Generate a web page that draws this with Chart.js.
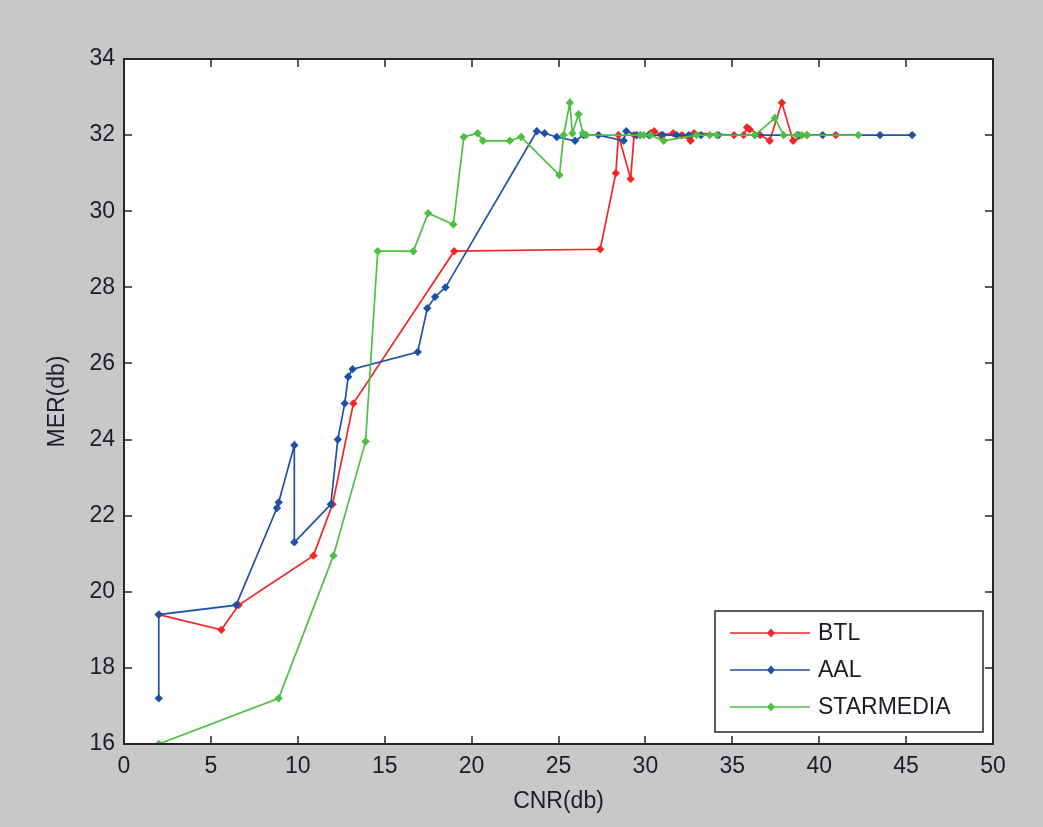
<!DOCTYPE html>
<html>
<head>
<meta charset="utf-8">
<script src="https://cdn.jsdelivr.net/npm/chart.js@4.4.1/dist/chart.umd.min.js"></script>
<style>
    html, body { margin: 0; padding: 0; background: #c8c8c8; }
    #merChart { display: block; }
</style>
</head>
<body>
<canvas id="merChart" width="1043" height="827"></canvas>
<script>
// --- data ---
const seriesNames = ['BTL', 'AAL', 'STARMEDIA'];
const seriesColors = ['#f22626', '#1f50a8', '#4cc040'];

const btlCnr = [2.0, 5.6, 6.6, 10.9, 12.0, 13.2, 19.0, 27.4, 28.3, 28.45, 29.15, 29.35, 29.7, 30.3, 30.5, 30.9, 31.6, 32.1, 32.6, 32.8, 35.1, 35.65, 35.85, 36.0, 36.6, 37.15, 37.85, 38.5, 39.3, 40.95];
const btlMer = [19.4, 19.0, 19.65, 20.95, 22.3, 24.95, 28.95, 29.0, 31.0, 32.0, 30.85, 32.0, 32.0, 32.05, 32.1, 32.0, 32.05, 32.0, 31.85, 32.05, 32.0, 32.0, 32.2, 32.15, 32.0, 31.85, 32.85, 31.85, 32.0, 32.0];

const aalCnr = [2.0, 2.0, 6.45, 8.8, 8.9, 9.8, 9.8, 11.9, 12.3, 12.7, 12.9, 13.15, 16.9, 17.45, 17.9, 18.5, 23.75, 24.2, 24.9, 25.95, 26.45, 27.3, 28.75, 28.9, 29.5, 30.2, 31.0, 31.8, 32.5, 33.2, 34.2, 36.3, 38.8, 40.2, 43.5, 45.35];
const aalMer = [17.2, 19.4, 19.65, 22.2, 22.35, 23.85, 21.3, 22.3, 24.0, 24.95, 25.65, 25.85, 26.3, 27.45, 27.75, 28.0, 32.1, 32.05, 31.95, 31.85, 32.0, 32.0, 31.85, 32.1, 32.0, 32.0, 32.0, 32.0, 32.0, 32.0, 32.0, 32.0, 32.0, 32.0, 32.0, 32.0];

const starCnr = [2.0, 8.9, 12.05, 13.9, 14.6, 16.65, 17.5, 18.95, 19.55, 20.35, 20.65, 22.2, 22.85, 25.05, 25.3, 25.65, 25.8, 26.15, 26.4, 26.6, 29.7, 29.9, 30.3, 31.05, 32.95, 33.7, 34.1, 36.3, 37.45, 37.95, 38.7, 39.0, 39.3, 42.25];
const starMer = [16.0, 17.2, 20.95, 23.95, 28.95, 28.95, 29.95, 29.65, 31.95, 32.05, 31.85, 31.85, 31.95, 30.95, 32.0, 32.85, 32.05, 32.55, 32.05, 32.0, 32.0, 32.0, 32.0, 31.85, 32.0, 32.0, 32.0, 32.0, 32.45, 32.0, 32.0, 32.0, 32.0, 32.0];

const xTicks = [0, 5, 10, 15, 20, 25, 30, 35, 40, 45, 50];
const yTicks = [16, 18, 20, 22, 24, 26, 28, 30, 32, 34];

function toPoints(xs, ys) {
    return xs.map((x, i) => ({ x: x, y: ys[i] }));
}

const allSeries = [toPoints(btlCnr, btlMer), toPoints(aalCnr, aalMer), toPoints(starCnr, starMer)];

const AXIS_COLOR = '#262626';
const TEXT_COLOR = '#1c1c28';
const FONT = "'Liberation Sans', Arial, sans-serif";

/* --- background, box, inward ticks, legend --- */
const matlabLook = {
    id: 'matlabLook',
    beforeDraw(chart) {
        const { ctx, chartArea: a } = chart;
        ctx.save();
        ctx.fillStyle = '#c8c8c8';
        ctx.fillRect(0, 0, chart.width, chart.height);
        ctx.fillStyle = '#ffffff';
        ctx.fillRect(a.left, a.top, a.right - a.left, a.bottom - a.top);
        ctx.restore();
    },
    afterDraw(chart) {
        const { ctx, chartArea: a, scales } = chart;
        ctx.save();
        ctx.strokeStyle = AXIS_COLOR;
        ctx.lineWidth = 2;
        ctx.strokeRect(a.left, a.top, a.right - a.left, a.bottom - a.top);
        const tl = 8;
        ctx.lineWidth = 1.5;
        ctx.beginPath();
        xTicks.forEach(v => {
            const px = Math.round(scales.x.getPixelForValue(v));
            ctx.moveTo(px, a.bottom); ctx.lineTo(px, a.bottom - tl);
            ctx.moveTo(px, a.top); ctx.lineTo(px, a.top + tl);
        });
        yTicks.forEach(v => {
            const py = Math.round(scales.y.getPixelForValue(v));
            ctx.moveTo(a.left, py); ctx.lineTo(a.left + tl, py);
            ctx.moveTo(a.right, py); ctx.lineTo(a.right - tl, py);
        });
        ctx.stroke();

        // legend box (lower right, inside axes)
        const box = { x: 715, y: 611, w: 268, h: 121 };
        ctx.fillStyle = '#ffffff';
        ctx.fillRect(box.x, box.y, box.w, box.h);
        ctx.lineWidth = 1.5;
        ctx.strokeRect(box.x, box.y, box.w, box.h);
        ctx.font = '23px ' + FONT;
        ctx.textBaseline = 'middle';
        chart.data.datasets.forEach((ds, i) => {
            const y = 633 + i * 37;
            ctx.strokeStyle = ds.borderColor;
            ctx.lineWidth = 1.5;
            ctx.beginPath();
            ctx.moveTo(730, y); ctx.lineTo(810, y);
            ctx.stroke();
            ctx.fillStyle = ds.borderColor;
            ctx.beginPath();
            ctx.moveTo(771, y - 4.5); ctx.lineTo(775, y); ctx.lineTo(771, y + 4.5); ctx.lineTo(767, y);
            ctx.closePath();
            ctx.fill();
            ctx.fillStyle = TEXT_COLOR;
            ctx.fillText(ds.label, 818, y + 1);
        });
        ctx.restore();
    }
};

const ctx = document.getElementById('merChart').getContext('2d');
const merChart = new Chart(ctx, {
    type: 'scatter',
    data: {
        datasets: allSeries.map((pts, i) => ({
            label: seriesNames[i],
            data: pts,
            showLine: true,
            borderColor: seriesColors[i],
            backgroundColor: seriesColors[i],
            borderWidth: 1.7,
            pointStyle: 'rectRot',
            pointRadius: 4.2,
            pointBorderWidth: 0,
            order: 3 - i
        }))
    },
    options: {
        responsive: false,
        animation: false,
        layout: { padding: { left: 0, top: 59, right: 50, bottom: 0 } },
        plugins: {
            legend: { display: false },
            tooltip: { enabled: false }
        },
        scales: {
            x: {
                type: 'linear',
                min: 0, max: 50,
                afterBuildTicks: s => { s.ticks = xTicks.map(v => ({ value: v })); },
                afterFit: s => { s.height = 83; },
                grid: { display: false, drawTicks: false },
                border: { display: false },
                ticks: { color: TEXT_COLOR, font: { family: FONT, size: 23 }, padding: 9, maxRotation: 0 },
                title: { display: true, text: 'CNR(db)', color: TEXT_COLOR, font: { family: FONT, size: 23 }, padding: { top: 0, bottom: 12 } }
            },
            y: {
                type: 'linear',
                min: 16, max: 34,
                afterBuildTicks: s => { s.ticks = yTicks.map(v => ({ value: v })); },
                afterFit: s => { s.width = 124; },
                grid: { display: false, drawTicks: false },
                border: { display: false },
                ticks: { color: TEXT_COLOR, font: { family: FONT, size: 23 }, padding: 9 },
                title: { display: true, text: 'MER(db)', color: TEXT_COLOR, font: { family: FONT, size: 23 }, padding: { top: 44, bottom: 0 } }
            }
        }
    },
    plugins: [matlabLook]
});
</script>
</body>
</html>
